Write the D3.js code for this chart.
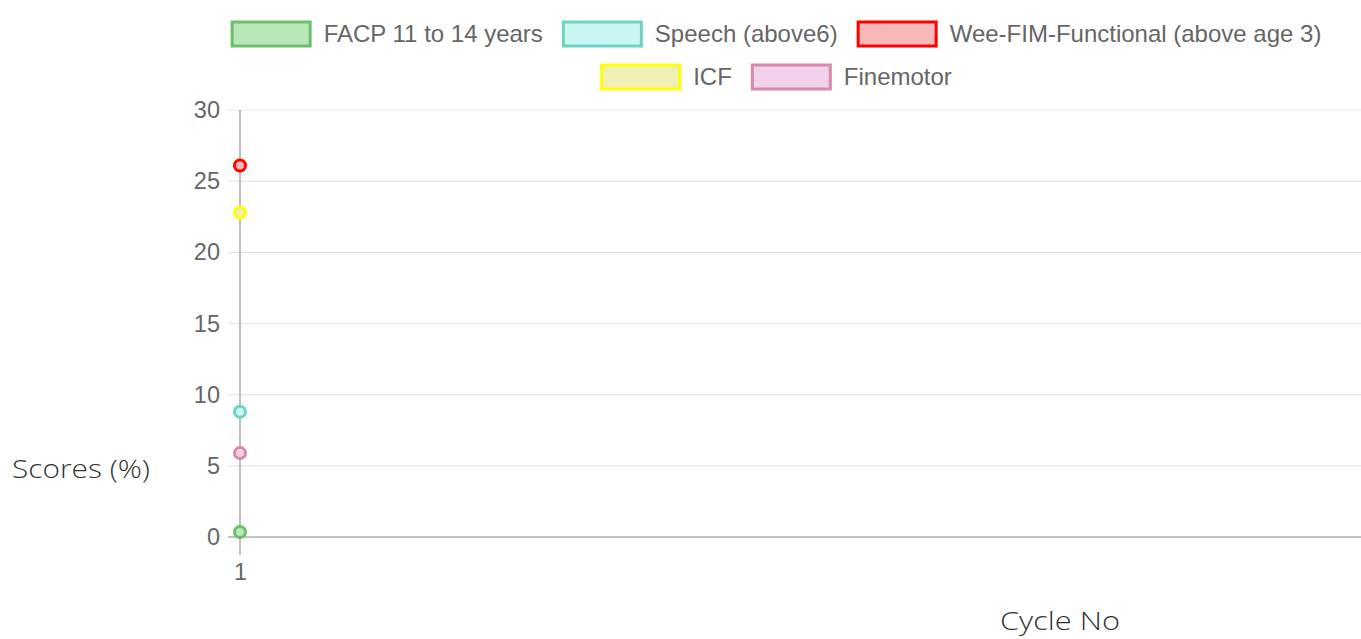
<!DOCTYPE html>
<html>
<head>
<meta charset="utf-8">
<script src="https://cdn.jsdelivr.net/npm/d3@7"></script>
<style>
  body { margin: 0; background: #fff; }
  svg { display: block; }
</style>
</head>
<body>
<svg id="chart" width="1361" height="639"></svg>
<script>
// data
var cycles = ["1"];
var seriesNames = ["FACP 11 to 14 years", "Speech (above6)", "Wee-FIM-Functional (above age 3)", "ICF", "Finemotor"];
var seriesValues = [[0.35], [8.8], [26.1], [22.8], [5.9]];
var strokeColors = ["#6bbf6b", "#6fd3c4", "#ff0000", "#ffff00", "#d98aa9"];
var fillColors = ["#b9e7b9", "#c9f6f0", "#f8b8b8", "#f0efb6", "#f2d1ea"];
var yTicks = [0, 5, 10, 15, 20, 25, 30];

var svg = d3.select("#chart");
var margin = {top: 110, right: 0, bottom: 102, left: 240};
var width = 1361 - margin.left - margin.right;
var height = 639 - margin.top - margin.bottom;

var x = d3.scalePoint().domain(cycles).range([0, width]).align(0);
var y = d3.scaleLinear().domain([0, 30]).range([height, 0]);

var g = svg.append("g").attr("transform", "translate(" + margin.left + "," + margin.top + ")");

// gridlines
g.append("g").selectAll("line")
  .data(yTicks)
  .enter().append("line")
  .attr("x1", -12).attr("x2", width)
  .attr("y1", function(d) { return y(d); })
  .attr("y2", function(d) { return y(d); })
  .attr("stroke", function(d) { return d === 0 ? "#b0b0b0" : "#e5e5e5"; })
  .attr("stroke-width", function(d) { return d === 0 ? 1.5 : 1.2; });

// y axis
var yAxis = g.append("g")
  .call(d3.axisLeft(y).tickValues(yTicks).tickSize(0).tickPadding(20));
yAxis.select(".domain").remove();
yAxis.selectAll("text")
  .attr("fill", "#666")
  .style("font-family", "'Liberation Sans', Arial, sans-serif")
  .style("font-size", "23.5px");

g.append("line")
  .attr("x1", 0).attr("x2", 0)
  .attr("y1", 0).attr("y2", height + 18)
  .attr("stroke", "#a8a8a8").attr("stroke-width", 1.5);

// x axis labels
var xAxis = g.append("g")
  .attr("transform", "translate(0," + height + ")")
  .call(d3.axisBottom(x).tickSize(0).tickPadding(26));
xAxis.select(".domain").remove();
xAxis.selectAll("text")
  .attr("fill", "#666")
  .style("font-family", "'Liberation Sans', Arial, sans-serif")
  .style("font-size", "23.5px");

// points
seriesValues.forEach(function(vals, i) {
  g.append("g").selectAll("circle")
    .data(vals)
    .enter().append("circle")
    .attr("cx", function(d, j) { return x(cycles[j]); })
    .attr("cy", function(d) { return y(d); })
    .attr("r", 5.5)
    .attr("fill", fillColors[i])
    .attr("stroke", strokeColors[i])
    .attr("stroke-width", 3);
});

// axis titles
svg.append("text")
  .attr("x", 12).attr("y", 478)
  .attr("fill", "#333")
  .style("font-family", "'Open Sans', 'Noto Sans', sans-serif")
  .style("font-weight", 300)
  .style("font-size", "26px")
  .attr("textLength", 138)
  .attr("lengthAdjust", "spacingAndGlyphs")
  .text("Scores (%)");

svg.append("text")
  .attr("x", 1000).attr("y", 630)
  .attr("fill", "#333")
  .style("font-family", "'Open Sans', 'Noto Sans', sans-serif")
  .style("font-weight", 300)
  .style("font-size", "26px")
  .attr("textLength", 120)
  .attr("lengthAdjust", "spacingAndGlyphs")
  .text("Cycle No");

// legend, two centred rows
var rows = [[0, 1, 2], [3, 4]];
var rowY = [34, 77];
var boxW = 81, boxH = 24, gapText = 12, gapItem = 19, legendCenter = 776;

rows.forEach(function(row, r) {
  var lg = svg.append("g");
  var cx = 0;
  row.forEach(function(i) {
    lg.append("rect")
      .attr("x", cx + 1.5).attr("y", rowY[r] - boxH / 2)
      .attr("width", boxW - 3).attr("height", boxH)
      .attr("fill", fillColors[i])
      .attr("stroke", strokeColors[i])
      .attr("stroke-width", 3);
    var t = lg.append("text")
      .attr("x", cx + boxW + gapText).attr("y", rowY[r])
      .attr("dy", "0.35em")
      .attr("fill", "#666")
      .style("font-family", "'Liberation Sans', Arial, sans-serif")
      .style("font-size", "24px")
      .text(seriesNames[i]);
    cx += boxW + gapText + t.node().getComputedTextLength() + gapItem;
  });
  var total = cx - gapItem;
  lg.attr("transform", "translate(" + (legendCenter - total / 2) + ",0)");
});
</script>
</body>
</html>
